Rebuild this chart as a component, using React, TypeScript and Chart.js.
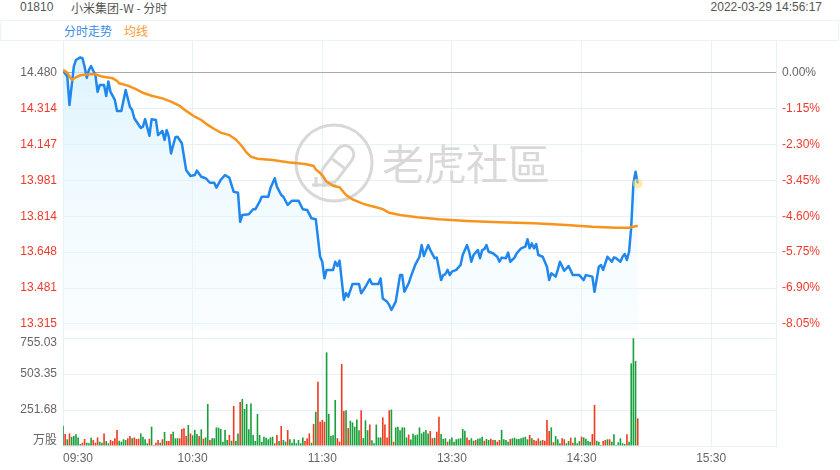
import React, { useEffect, useRef } from 'react';
import { Chart, registerables } from 'chart.js';

Chart.register(...registerables);

const FONT = '"Liberation Sans", Arial, "Noto Sans CJK SC", sans-serif';

// ---------- data ----------
const prevClose = 14.48;

// trading minutes since 09:30 (lunch break removed)
const priceMinutes = [
  0, 2, 3, 5, 6, 8, 9, 10, 11, 12, 13, 14, 15, 16, 17, 19, 20, 21, 22, 24,
  25, 27, 29, 31, 32, 33, 36, 37, 38, 40, 41, 43, 44, 46, 47, 48, 49, 50, 52, 53,
  55, 57, 59, 61, 62, 64, 66, 68, 70, 71, 73, 75, 77, 79, 81, 82, 83, 86, 88, 89,
  91, 92, 95, 96, 98, 99, 101, 102, 104, 106, 109, 111, 113, 115, 117, 119, 120, 121, 122, 125,
  126, 127, 128, 130, 131, 132, 134, 137, 138, 140, 142, 143, 146, 147, 148, 150, 151, 152, 154, 156,
  157, 158, 160, 161, 163, 165, 166, 167, 169, 170, 172, 173, 175, 176, 177, 178, 179, 180, 182, 184,
  185, 187, 188, 189, 190, 192, 193, 194, 195, 196, 197, 199, 201, 202, 203, 205, 206, 207, 209, 210,
  212, 214, 215, 216, 217, 218, 219, 220, 222, 224, 225, 226, 228, 229, 230, 232, 234, 236, 239, 241,
  242, 245, 246, 248, 249, 250, 252, 254, 255, 256, 258, 259, 260, 261, 262, 263, 264, 265, 266,
];
const prices = [
  14.488, 14.461, 14.329, 14.507, 14.538, 14.55, 14.546, 14.507, 14.455, 14.492, 14.51, 14.488, 14.468, 14.39, 14.422, 14.422, 14.371, 14.438, 14.39, 14.353,
  14.302, 14.302, 14.399, 14.32, 14.306, 14.268, 14.223, 14.229, 14.264, 14.187, 14.263, 14.26, 14.19, 14.209, 14.167, 14.213, 14.182, 14.105, 14.18, 14.182,
  14.152, 14.028, 14.0, 14.005, 14.025, 13.997, 13.99, 13.969, 13.969, 13.946, 13.982, 14.005, 13.992, 13.927, 13.923, 13.788, 13.82, 13.823, 13.846, 13.846,
  13.881, 13.904, 13.904, 13.943, 13.99, 13.951, 13.912, 13.904, 13.866, 13.886, 13.886, 13.846, 13.843, 13.804, 13.8, 13.626, 13.603, 13.526, 13.565, 13.565,
  13.603, 13.583, 13.608, 13.426, 13.457, 13.441, 13.5, 13.5, 13.457, 13.487, 13.522, 13.5, 13.5, 13.526, 13.433, 13.418, 13.402, 13.379, 13.418, 13.541,
  13.541, 13.464, 13.503, 13.534, 13.588, 13.626, 13.68, 13.629, 13.68, 13.657, 13.619, 13.622, 13.518, 13.541, 13.546, 13.565, 13.541, 13.557, 13.565, 13.588,
  13.634, 13.68, 13.649, 13.603, 13.634, 13.657, 13.619, 13.657, 13.661, 13.68, 13.649, 13.642, 13.626, 13.603, 13.622, 13.619, 13.645, 13.603, 13.622, 13.642,
  13.665, 13.673, 13.707, 13.665, 13.688, 13.665, 13.685, 13.634, 13.626, 13.58, 13.518, 13.549, 13.534, 13.565, 13.603, 13.561, 13.583, 13.541, 13.541, 13.518,
  13.541, 13.534, 13.464, 13.58, 13.588, 13.565, 13.626, 13.603, 13.623, 13.619, 13.603, 13.626, 13.639, 13.611, 13.649, 13.765, 13.966, 14.02, 13.966,
];

const avgMinutes = [
  0, 2, 4, 6, 8, 12, 15, 18, 23, 25, 26, 30, 34, 37, 41, 46, 50, 54, 57, 61,
  64, 67, 70, 73, 77, 80, 83, 85, 87, 90, 97, 104, 112, 116, 117, 120, 122, 125, 128, 131,
  134, 139, 144, 148, 151, 156, 164, 174, 187, 202, 218, 233, 245, 256, 262, 266,
];
const avgPrices = [
  14.492, 14.479, 14.445, 14.458, 14.467, 14.472, 14.472, 14.461, 14.453, 14.441, 14.43, 14.419, 14.402, 14.386, 14.372, 14.36, 14.345, 14.325, 14.302, 14.275,
  14.26, 14.237, 14.218, 14.201, 14.19, 14.17, 14.136, 14.108, 14.09, 14.08, 14.074, 14.064, 14.056, 14.047, 14.031, 14.005, 13.974, 13.955, 13.948, 13.912,
  13.892, 13.871, 13.858, 13.847, 13.83, 13.82, 13.809, 13.8, 13.792, 13.786, 13.781, 13.773, 13.765, 13.761, 13.761, 13.77,
];

// volume per minute (万股), index = minute since 09:30
const volumes = [
  142, 84, 47, 88, 65, 70, 82, 60, 14, 23,
  49, 23, 19, 58, 42, 23, 60, 30, 23, 88,
  35, 19, 42, 35, 54, 112, 37, 30, 47, 42,
  54, 70, 54, 60, 49, 51, 88, 65, 47, 19,
  51, 135, 7, 23, 42, 23, 47, 98, 35, 35,
  84, 100, 54, 54, 54, 119, 124, 70, 147, 88,
  75, 112, 84, 70, 117, 51, 60, 294, 42, 54,
  54, 130, 128, 119, 30, 112, 42, 77, 37, 280,
  35, 88, 308, 329, 259, 294, 117, 298, 77, 35,
  224, 77, 28, 65, 58, 47, 60, 65, 19, 77,
  35, 140, 42, 30, 112, 47, 23, 47, 19, 42,
  19, 60, 35, 54, 88, 23, 154, 240, 450, 170,
  182, 170, 655, 225, 70, 75, 322, 55, 30, 573,
  245, 250, 125, 177, 165, 135, 185, 110, 250, 55,
  180, 110, 150, 40, 20, 150, 60, 60, 200, 150,
  60, 250, 255, 30, 130, 135, 110, 130, 130, 60,
  80, 45, 85, 75, 80, 130, 88, 100, 112, 88,
  105, 54, 58, 100, 205, 84, 49, 54, 30, 47,
  60, 30, 47, 51, 54, 119, 107, 60, 42, 54,
  37, 42, 51, 54, 65, 37, 49, 42, 51, 42,
  42, 30, 42, 112, 47, 42, 30, 49, 54, 58,
  49, 49, 54, 60, 65, 47, 77, 54, 42, 37,
  54, 37, 42, 37, 182, 105, 130, 26, 70, 47,
  19, 54, 47, 19, 35, 58, 23, 60, 19, 35,
  65, 60, 51, 35, 30, 84, 287, 37, 30, 7,
  35, 42, 47, 47, 30, 82, 7, 26, 54, 19,
  14, 82, 30, 578, 753, 594, 193,
];
// 1 = up minute (red), 0 = down minute (green)
const volumeUp = [
  0, 1, 0, 1, 0, 0, 0, 0, 0, 1,
  1, 0, 0, 0, 1, 1, 1, 0, 0, 1,
  0, 0, 1, 1, 1, 1, 0, 0, 0, 0,
  1, 1, 0, 1, 1, 1, 0, 0, 0, 0,
  1, 0, 1, 1, 1, 0, 1, 0, 1, 1,
  1, 0, 0, 0, 1, 1, 1, 1, 0, 1,
  0, 0, 0, 1, 0, 1, 0, 0, 1, 0,
  0, 0, 0, 0, 0, 0, 0, 1, 0, 1,
  0, 0, 1, 0, 0, 0, 0, 0, 0, 0,
  0, 0, 0, 0, 0, 0, 0, 0, 1, 1,
  0, 1, 0, 0, 1, 0, 0, 0, 0, 0,
  0, 0, 1, 1, 1, 0, 1, 0, 1, 1,
  1, 1, 0, 0, 0, 0, 0, 1, 1, 1,
  1, 0, 1, 0, 0, 0, 0, 0, 1, 0,
  0, 0, 1, 0, 0, 0, 0, 0, 1, 1,
  1, 1, 0, 1, 0, 0, 0, 0, 0, 0,
  1, 0, 0, 0, 0, 0, 0, 0, 0, 0,
  1, 1, 0, 1, 1, 0, 0, 0, 1, 0,
  0, 0, 0, 0, 0, 0, 0, 1, 1, 0,
  0, 1, 0, 0, 0, 1, 0, 0, 1, 1,
  0, 1, 1, 0, 0, 0, 0, 1, 0, 0,
  0, 0, 0, 0, 0, 0, 1, 0, 1, 1,
  1, 0, 1, 1, 1, 1, 0, 1, 0, 0,
  0, 1, 1, 0, 0, 1, 1, 0, 0, 0,
  1, 0, 0, 0, 0, 1, 1, 0, 0, 0,
  1, 1, 0, 1, 0, 0, 0, 0, 0, 0,
  0, 1, 0, 0, 0, 0, 1,
];

const pctTicks = [0, -1.15, -2.3, -3.45, -4.6, -5.75, -6.9, -8.05];
const priceTickLabels = ['14.480', '14.314', '14.147', '13.981', '13.814', '13.648', '13.481', '13.315'];
const pctTickLabels = ['0.00%', '-1.15%', '-2.30%', '-3.45%', '-4.60%', '-5.75%', '-6.90%', '-8.05%'];
const volTicks = [0, 251.68, 503.35, 755.03];
const volTickLabels = ['万股', '251.68', '503.35', '755.03'];
const timeTicks = [0, 60, 120, 180, 240, 300, 330];
const timeLabels = ['09:30', '10:30', '11:30', '13:30', '14:30', '15:30', ''];

// axis ranges
const priceMin = 13.2819;
const priceMax = 14.6306;
const volMax = 804;
const totalMinutes = 330;

// ---------- styles ----------
const GRID = '#e6f1f8';
const GRAY_TXT = '#666666';
const RED_TXT = '#ee3a2c';
const BLUE = '#1f87ee';
const ORANGE = '#f7941d';
const BAR_RED = '#f03b1f';
const BAR_GREEN = '#17a03b';

const watermarkPlugin = {
  id: 'watermark',
  beforeDatasetsDraw(chart: any) {
    const area = chart.chartArea;
    if (!area) return;
    const c = chart.ctx as CanvasRenderingContext2D;
    const cx = area.left + 271;
    const cy = area.top + 123;
    c.save();
    c.strokeStyle = '#d8d8d8';
    c.fillStyle = '#d8d8d8';
    c.lineWidth = 3;
    c.beginPath();
    c.arc(cx, cy, 38, 0, Math.PI * 2);
    c.stroke();
    c.save();
    c.translate(cx + 3, cy + 2);
    c.rotate(-Math.PI / 3.4);
    c.beginPath();
    c.moveTo(-11, -9);
    c.lineTo(13, -9);
    c.arc(13, 0, 9, -Math.PI / 2, Math.PI / 2);
    c.lineTo(-11, 9);
    c.arc(-11, 0, 9, Math.PI / 2, Math.PI * 1.5);
    c.closePath();
    c.stroke();
    c.beginPath();
    c.moveTo(2, -9);
    c.lineTo(2, 9);
    c.stroke();
    c.restore();
    c.beginPath();
    c.moveTo(cx - 22, cy + 22);
    c.lineTo(cx + 2, cy + 22);
    c.stroke();
    c.beginPath();
    c.moveTo(cx - 18, cy + 14);
    c.lineTo(cx - 18, cy + 24);
    c.moveTo(cx - 10, cy + 14);
    c.lineTo(cx - 10, cy + 24);
    c.stroke();
    c.font = '42px "Noto Sans CJK TC", "Noto Sans CJK SC", sans-serif';
    c.textBaseline = 'middle';
    c.textAlign = 'left';
    c.fillStyle = '#d9d9d9';
    c.fillText('老虎社區', cx + 48, cy + 1);
    c.restore();
  },
};

export default function App() {
  const ref = useRef<HTMLCanvasElement | null>(null);

  useEffect(() => {
    if (!ref.current) return;
    Chart.defaults.font.family = FONT;
    Chart.defaults.font.size = 12;

    const priceTickValues = pctTicks.map((p) => prevClose * (1 + p / 100));

    const fillColor = (ctx: any) => {
      const chart = ctx.chart;
      const ys = chart.scales ? chart.scales.y : null;
      if (!ys || !Number.isFinite(ys.top) || !Number.isFinite(ys.bottom) || ys.bottom <= ys.top) {
        return 'rgba(225, 245, 254, 0.55)';
      }
      const g = chart.ctx.createLinearGradient(0, ys.top, 0, ys.bottom);
      g.addColorStop(0, 'rgba(205, 238, 252, 0.75)');
      g.addColorStop(0.5, 'rgba(225, 245, 254, 0.5)');
      g.addColorStop(1, 'rgba(238, 249, 254, 0.35)');
      return g;
    };

    const chart = new Chart(ref.current, {
      type: 'line',
      data: {
        datasets: [
          {
            type: 'line',
            data: avgMinutes.map((m, i) => ({ x: m, y: avgPrices[i] })),
            borderColor: ORANGE,
            borderWidth: 2.5,
            pointRadius: 0,
            tension: 0,
            fill: false,
            xAxisID: 'x',
            yAxisID: 'y',
            order: 0,
          },
          {
            type: 'line',
            data: priceMinutes.map((m, i) => ({ x: m, y: prices[i] })),
            borderColor: BLUE,
            borderWidth: 2.5,
            borderJoinStyle: 'round',
            tension: 0,
            pointRadius: (ctx: any) => (ctx.dataIndex === prices.length - 1 ? 5 : 0),
            pointBackgroundColor: 'rgba(255, 222, 110, 0.55)',
            pointBorderWidth: 0,
            fill: 'start',
            backgroundColor: fillColor,
            xAxisID: 'x',
            yAxisID: 'y',
            order: 1,
          },
          {
            type: 'bar',
            data: volumes.map((v, i) => ({ x: i, y: v })),
            backgroundColor: volumeUp.map((u) => (u ? BAR_RED : BAR_GREEN)),
            borderWidth: 0,
            barPercentage: 0.75,
            categoryPercentage: 1,
            xAxisID: 'x',
            yAxisID: 'yv',
            order: 2,
          } as any,
        ],
      },
      options: {
        animation: false,
        responsive: false,
        maintainAspectRatio: false,
        events: [],
        layout: { padding: { top: 40, left: 0, right: 0, bottom: 0 } },
        plugins: { legend: { display: false }, tooltip: { enabled: false } },
        scales: {
          x: {
            type: 'linear',
            min: 0,
            max: totalMinutes,
            offset: false,
            afterBuildTicks: (s: any) => {
              s.ticks = timeTicks.map((v) => ({ value: v }));
            },
            afterFit: (s: any) => {
              s.height = 24;
            },
            grid: { color: GRID, drawTicks: false, offset: false },
            border: { color: GRID },
            ticks: {
              autoSkip: false,
              maxRotation: 0,
              align: 'inner',
              padding: 5,
              color: GRAY_TXT,
              font: { size: 12 },
              callback: (_v: any, i: number) => timeLabels[i],
            },
          },
          // left-side boxes are laid out in reverse order: volume first so price sits on top
          yv: {
            type: 'linear',
            position: 'left',
            stack: 'left',
            stackWeight: 115,
            min: 0,
            max: volMax,
            afterBuildTicks: (s: any) => {
              s.ticks = volTicks.map((v) => ({ value: v }));
            },
            afterFit: (s: any) => {
              s.width = 63;
            },
            grid: { drawTicks: false, color: GRID },
            border: { color: GRID },
            ticks: {
              autoSkip: false,
              padding: 6,
              color: GRAY_TXT,
              font: { size: 12, lineHeight: 0.85 },
              callback: (_v: any, i: number) => {
                if (i === 0) return [volTickLabels[i], ''];
                if (i === volTicks.length - 1) return ['', volTickLabels[i]];
                return volTickLabels[i];
              },
            },
          },
          y: {
            type: 'linear',
            position: 'left',
            stack: 'left',
            stackWeight: 291,
            min: priceMin,
            max: priceMax,
            afterBuildTicks: (s: any) => {
              s.ticks = priceTickValues.map((v) => ({ value: v }));
            },
            afterFit: (s: any) => {
              s.width = 63;
            },
            grid: {
              drawTicks: false,
              color: (ctx: any) => (ctx.index === 0 ? '#a9a9a9' : GRID),
            },
            border: { color: GRID },
            ticks: {
              autoSkip: false,
              padding: 6,
              color: (ctx: any) => (ctx.index === 0 ? GRAY_TXT : RED_TXT),
              callback: (_v: any, i: number) => priceTickLabels[i],
            },
          },
          yp: {
            type: 'linear',
            position: 'right',
            stack: 'right',
            stackWeight: 291,
            min: (priceMin / prevClose - 1) * 100,
            max: (priceMax / prevClose - 1) * 100,
            afterBuildTicks: (s: any) => {
              s.ticks = pctTicks.map((v) => ({ value: v }));
            },
            afterFit: (s: any) => {
              s.width = 64;
            },
            grid: { display: false, drawTicks: false },
            border: { color: GRID },
            ticks: {
              autoSkip: false,
              padding: 6,
              color: (ctx: any) => (ctx.index === 0 ? GRAY_TXT : RED_TXT),
              callback: (_v: any, i: number) => pctTickLabels[i],
            },
          },
          yvr: {
            type: 'linear',
            position: 'right',
            stack: 'right',
            stackWeight: 115,
            min: 0,
            max: volMax,
            afterFit: (s: any) => {
              s.width = 64;
            },
            grid: { display: false, drawTicks: false },
            border: { color: GRID },
            ticks: { display: false },
          },
        },
      } as any,
      plugins: [watermarkPlugin],
    });

    return () => chart.destroy();
  }, []);

  const txt: React.CSSProperties = {
    position: 'absolute',
    fontSize: 12,
    lineHeight: '15px',
    whiteSpace: 'nowrap',
  };

  return (
    <div
      style={{
        position: 'fixed',
        left: 0,
        top: 0,
        width: 840,
        height: 470,
        background: '#ffffff',
        overflow: 'hidden',
        fontFamily: FONT,
      }}
    >
      <div style={{ ...txt, left: 20, top: 0, color: '#555' }}>01810</div>
      <div style={{ ...txt, left: 71, top: 0, color: '#555', fontFamily: '"Noto Sans CJK SC", sans-serif' }}>
        小米集团-W - 分时
      </div>
      <div style={{ ...txt, right: 18, top: 0, color: '#555' }}>2022-03-29 14:56:17</div>
      <div
        style={{
          position: 'absolute',
          left: 0,
          top: 20,
          width: 837,
          height: 19,
          border: '1px solid #e8f3fa',
        }}
      />
      <div style={{ ...txt, left: 64, top: 23, color: '#3a8ee6', fontFamily: '"Noto Sans CJK SC", sans-serif' }}>
        分时走势
      </div>
      <div style={{ ...txt, left: 124, top: 23, color: '#f79a2e', fontFamily: '"Noto Sans CJK SC", sans-serif' }}>
        均线
      </div>
      <canvas
        ref={ref}
        width={840}
        height={470}
        style={{ position: 'absolute', left: 0, top: 0, width: 840, height: 470 }}
      />
    </div>
  );
}
